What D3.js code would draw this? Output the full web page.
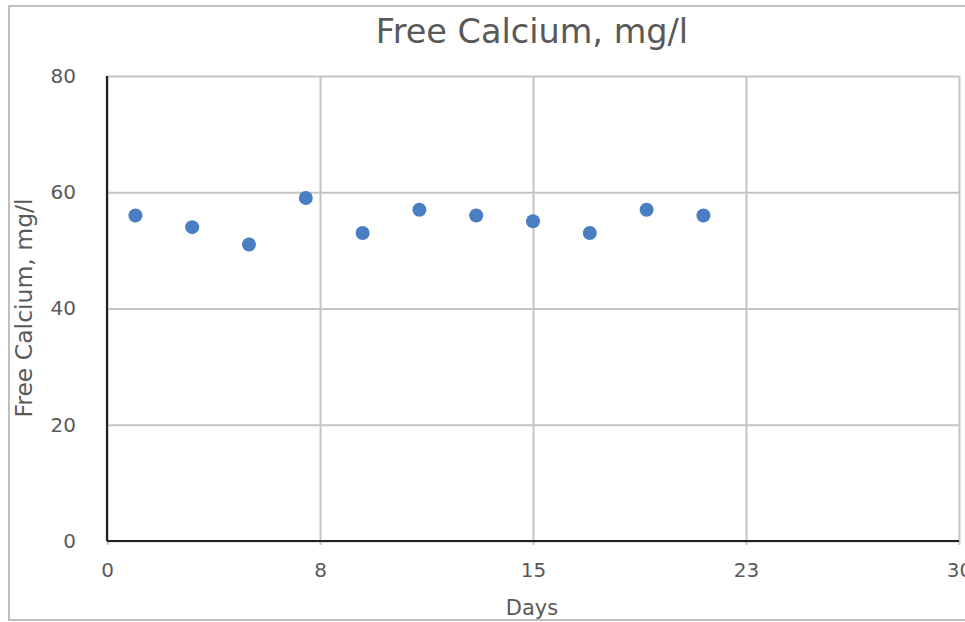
<!DOCTYPE html>
<html>
<head>
<meta charset="utf-8">
<script src="https://cdn.jsdelivr.net/npm/d3@7"></script>
<style>
  body { margin: 0; background: #fff; }
  text { font-family: "DejaVu Sans", Verdana, sans-serif; fill: #595959; }
  .grid line { stroke: #c4c4c4; stroke-width: 2; }
  .grid path { display: none; }
</style>
</head>
<body>
<div id="chart"></div>
<script>
// data
var days = [1, 3, 5, 7, 9, 11, 13, 15, 17, 19, 21];
var calcium = [56, 54, 51, 59, 53, 57, 56, 55, 53, 57, 56];

var xTicks = [0, 7.5, 15, 22.5, 30];
var xTickLabels = ["0", "8", "15", "23", "30"];
var yTicks = [0, 20, 40, 60, 80];

var W = 965, H = 622;
var margin = {top: 76, right: 6, bottom: 81, left: 107},
    width = 959 - margin.left,
    height = 541 - margin.top;

var svg = d3.select("#chart").append("svg")
    .attr("width", W)
    .attr("height", H);

// outer frame (right side runs off the page)
svg.append("rect")
    .attr("x", 9).attr("y", 6)
    .attr("width", 980).attr("height", 614)
    .style("fill", "none")
    .style("stroke", "#bfbfbf")
    .style("stroke-width", 2);

var g = svg.append("g")
    .attr("transform", "translate(" + margin.left + "," + margin.top + ")");

var x = d3.scaleLinear().domain([0, 30]).range([0, width]);
var y = d3.scaleLinear().domain([0, 80]).range([height, 0]);

// gridlines
g.append("g")
    .attr("class", "grid")
    .attr("transform", "translate(0," + height + ")")
    .call(d3.axisBottom(x).tickValues(xTicks).tickSize(-height - 4).tickSizeOuter(0).tickFormat(""))
    .selectAll("line").attr("transform", "translate(0,4)");

g.append("g")
    .attr("class", "grid")
    .call(d3.axisLeft(y).tickValues(yTicks).tickSize(-width).tickSizeOuter(0).tickFormat(""));

// tick labels
var xAxis = g.append("g")
    .attr("transform", "translate(0," + height + ")")
    .call(d3.axisBottom(x).tickValues(xTicks).tickSize(0).tickPadding(22)
      .tickFormat(function(d, i) { return xTickLabels[i]; }));
xAxis.select(".domain").remove();
xAxis.selectAll("text").style("font-size", "20px").style("font-family", null);

var yAxis = g.append("g")
    .call(d3.axisLeft(y).tickValues(yTicks).tickSize(0).tickPadding(31));
yAxis.select(".domain").remove();
yAxis.selectAll("text").style("font-size", "20px").style("font-family", null);

// axis lines
g.append("line")
    .attr("x1", 0).attr("x2", 0).attr("y1", 0).attr("y2", height)
    .style("stroke", "#222").style("stroke-width", 2.2);
g.append("line")
    .attr("x1", 0).attr("x2", width).attr("y1", height).attr("y2", height)
    .style("stroke", "#222").style("stroke-width", 2.2);

// points
g.selectAll(".dot")
    .data(days)
    .enter().append("circle")
    .attr("class", "dot")
    .attr("cx", function(d) { return x(d); })
    .attr("cy", function(d, i) { return y(calcium[i]); })
    .attr("r", 7)
    .style("fill", "#4a7ec2");

// titles
svg.append("text")
    .attr("x", 532).attr("y", 43)
    .attr("text-anchor", "middle")
    .style("font-size", "33.5px")
    .text("Free Calcium, mg/l");

svg.append("text")
    .attr("x", 532).attr("y", 615)
    .attr("text-anchor", "middle")
    .style("font-size", "21px")
    .text("Days");

svg.append("text")
    .attr("transform", "translate(32,308) rotate(-90)")
    .attr("text-anchor", "middle")
    .style("font-size", "23.5px")
    .text("Free Calcium, mg/l");
</script>
</body>
</html>
